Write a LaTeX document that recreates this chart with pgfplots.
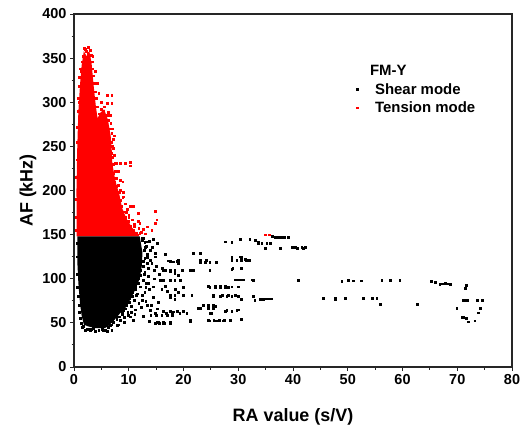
\documentclass[border=0pt]{standalone}
\usepackage{fontspec}
\setmainfont{Liberation Sans}
\usepackage{pgfplots}
\pgfplotsset{compat=1.18}
\begin{document}
\begin{tikzpicture}
\begin{axis}[
  scale only axis,
  width=438bp, height=353bp,
  xmin=0, xmax=80, ymin=0, ymax=400,
  xtick={0,10,...,80}, ytick={0,50,...,400},
  minor x tick num=1, minor y tick num=1,
  tick align=outside, tick pos=left,
  major tick length=4bp, minor tick length=2.5bp,
  axis line style={line width=1.1bp, black!85},
  every tick/.style={line width=1bp, black!85},
  /pgf/number format/assume math mode=true,
  ticklabel style={font=\bfseries\fontsize{14.5}{16}\selectfont},
  xlabel={RA value (s/V)}, ylabel={AF (kHz)},
  label style={font=\bfseries\fontsize{18}{20}\selectfont},
  xlabel style={at={(axis description cs:0.5,-0.14)}, anchor=center},
  ylabel style={at={(axis description cs:-0.105,0.5)}, anchor=center},
  legend style={draw=none, fill=none, at={(0.62,0.866)}, anchor=north west,
    font=\bfseries\fontsize{15}{18}\selectfont, row sep=2bp,
    /tikz/every odd column/.append style={column sep=15bp}},
  legend cell align=left,
]
\addlegendimage{empty legend}\addlegendentry{\hspace{-5bp}FM-Y}
\addlegendimage{only marks, mark=square*, mark size=0.8bp, black}\addlegendentry{Shear mode}
\addlegendimage{only marks, mark=square*, mark size=0.8bp, red}\addlegendentry{Tension mode}

% dense tension-mode core
\addplot[forget plot, fill=red, draw=none] coordinates {
 (0.5,148) (0.45,200) (0.6,250) (0.8,290) (1.1,320) (1.4,342) (1.8,358) (2.3,352) (2.8,358)
 (3.2,345) (3.6,318) (4.0,295) (4.3,282) (4.8,288) (5.5,292) (6.2,280) (6.7,262) (6.9,245)
 (7.0,230) (7.6,210) (8.3,195) (8.8,180) (9.6,168) (10.6,158) (11.6,150) (11.8,148)
};
% tension-mode scattered points
\addplot[forget plot, only marks, mark=square*, mark size=0.9bp, red] coordinates {
 (6.0,308) (6.9,308) (6.0,299) (6.9,299) (6.3,289) (6.6,285) (6.0,285) (6.6,242) (6.9,242)
 (7.5,231) (7.8,231) (8.4,231) (9.3,231) (10.2,232) (10.2,228) (8.4,212) (8.4,200) (9.0,198)
 (9.0,193) (8.4,189) (10.2,182) (10.8,182) (11.7,174) (11.7,165) (12.0,163) (14.8,177)
 (15.1,167) (14.8,163) (13.3,159) (14.2,155) (11.4,152) (12.0,152) (9.5,175) (8.0,190)
 (7.8,205) (7.2,220) (5.0,300) (4.5,310) (2.0,360) (2.6,362) (3.4,352) (1.3,335) (0.9,300)
 (7.0,270) (7.3,262) (5.5,295) (4.2,322) (3.9,335) (7.0,250) (7.4,240) (8.0,222) (8.9,210)
 (9.4,185) (10.0,170) (11.0,160) (12.6,156) (13.0,151) (34.9,150) (35.6,150)
 (11.5,150) (12.3,153) (10.9,155) (11.8,157) (10.3,160) (11.0,162) (9.9,165) (10.6,167)
 (9.4,170) (10.0,172) (9.2,176) (9.7,179) (8.6,182) (9.3,185) (8.2,188) (8.9,192) (7.9,195)
 (8.3,198) (7.6,202) (8.1,206) (7.3,210) (7.7,214) (7.0,218) (7.5,222) (6.8,226) (7.1,230)
 (6.6,234) (7.0,238) (6.5,245) (7.1,248) (6.9,255) (7.2,258) (6.9,265) (6.4,270) (6.7,276)
 (6.2,280) (5.8,285) (5.4,290) (4.9,292) (4.5,287) (4.3,295) (4.1,305) (3.9,312) (3.7,322)
 (3.5,330) (3.4,338) (3.3,346) (3.1,353) (2.9,359) (2.5,356) (2.2,358) (1.9,361) (1.6,352)
 (1.4,346) (1.2,338) (1.0,328) (0.9,318) (0.8,305) (0.7,290) (0.6,272) (0.5,255) (0.5,235)
 (0.4,215) (0.4,190) (0.4,170) (0.4,155)
};
% dense shear-mode core
\addplot[forget plot, fill=black, draw=none] coordinates {
 (0.6,148) (12.0,148) (12.5,130) (12.4,115) (12.0,100) (11.2,88) (10.4,78) (9.5,68) (8.3,60)
 (7.2,52) (6.2,46) (5.6,44) (4.0,44) (2.6,46) (1.8,48) (1.4,58) (1.1,72) (0.8,95) (0.6,120)
};
% shear-mode scattered points
\addplot[forget plot, only marks, mark=square*, mark size=0.9bp, black] coordinates {
 (2.0,42) (2.9,42) (5.4,42) (5.7,42) (6.0,41) (2.7,43) (1.5,45) (3.5,44)
 (12.6,146) (12.9,141) (13.2,137) (12.8,132) (13.4,128) (12.9,123) (13.3,118) (12.6,114)
 (12.9,108) (12.2,104) (12.6,99) (11.7,95) (12.1,91) (11.2,88) (11.6,83) (10.6,80) (11.0,76)
 (10.1,73) (10.4,69) (9.4,66) (9.8,62) (8.8,60) (8.3,57) (7.8,54) (7.2,51) (6.8,48) (6.2,45)
 (5.2,43) (4.5,42) (3.8,41) (3.2,43) (2.4,43) (1.7,46) (1.3,50) (1.2,55) (1.0,62) (0.9,70)
 (0.7,80) (0.6,90) (0.5,105) (0.5,125) (0.5,140) (13.8,143) (14.3,136) (13.9,121) (14.6,110)
 (13.6,103) (13.1,90) (12.5,81) (11.8,72) (11.2,65) (10.4,62) (9.2,56) (10.8,53)
 (11.7,140) (12.4,144) (13.0,136) (13.3,124) (14.2,118) (15.0,114) (13.9,132.6) (14.8,128.8)
 (17.2,120.5) (18.1,119.4) (19.1,118) (16.7,110) (17.5,108) (18.4,106) (19.0,104)
 (12.7,98.6) (13.6,94.8) (14.5,91) (15.7,98.6) (16.6,92) (11.4,81.6) (12.4,76) (13.3,70)
 (14.5,79.3) (15.4,73.6) (17.5,79) (18.4,77) (13.9,64.6) (14.8,60.8) (16.0,59) (16.9,60.8)
 (18.1,62.7) (15.4,51.3) (16.2,49.5) (17.5,49.5) (9.0,64.6) (9.9,59) (8.4,53.3) (7.9,47) (6.9,42)
 (12.5,146) (13.4,142) (14.4,145) (15.2,140)
 (12.0,128) (12.6,120) (12.2,110) (11.8,100) (11.2,92) (10.6,85) (10.1,78) (9.6,70) (8.8,62)
 (7.8,56) (7.0,52) (6.6,47) (12.8,105) (13.2,95) (13.8,88) (12.9,85) (14.6,100) (15.5,105)
 (16.1,112) (14.9,125) (13.5,112) (16.6,128) (13.1,75) (14.1,70) (15.2,66) (12.3,68) (11.1,60)
 (10.3,57) (9.2,51) (8.1,48) (12.6,58) (13.7,52) (16.0,88) (17.0,86) (18.5,88) (20.0,90) (19.0,85)
 (16.3,110) (17.5,110) (18.4,110) (19.7,110) (21.2,110) (21.8,110) (24.8,110)
 (17.5,120) (18.8,120) (19.0,121)
 (16.3,98.6) (17.5,98.6) (18.4,98) (19.4,98.6)
 (17.5,81) (18.4,81) (19.9,81) (21.5,81)
 (16.3,63.5) (17.5,63.5) (18.8,63) (19.9,63.5)
 (15.1,51) (16.3,51) (17.5,51)
 (14.0,59) (15.0,59) (17.0,59) (18.0,59)
 (14.8,50) (15.5,50) (16.5,50)
 (18.0,61) (19.3,61) (20.6,61) (21.2,53)
 (21.8,129) (23.0,129)
 (23.0,119) (24.0,119) (24.8,119) (26.0,119) (23.0,121) (24.2,121)
 (27.6,142) (28.8,141) (30.3,145) (32.1,144.7) (33.1,144) (33.7,141) (34.3,140)
 (28.8,124) (30.3,125) (28.8,121) (29.7,121) (30.6,121) (31.5,121) (32.1,121) (30.6,124) (31.2,122) (31.8,121)
 (29.0,112) (30.6,112) (28.8,111)
 (30.0,99) (30.9,99) (29.4,99) (30.3,99) (32.5,99) (32.7,98)
 (24.5,91.5) (25.8,91.5) (26.7,91.5) (27.6,91.5) (28.8,91) (30.0,91)
 (24.8,90) (25.8,90) (26.7,90) (27.6,90) (28.2,90)
 (25.4,80) (26.7,80) (27.9,80) (28.8,80) (30.0,80) (25.4,81.5) (27.0,81.5) (28.2,81.5) (29.4,81.5)
 (23.0,66.5) (24.5,66.5) (25.4,66.5) (27.9,64.6) (29.7,64.6) (22.7,67) (23.6,70) (24.5,70) (25.4,70)
 (25.8,69) (30.0,65)
 (24.8,61) (25.1,61) (27.6,63.5) (28.8,63.5)
 (24.5,53) (25.5,53) (26.5,53) (27.5,53) (28.5,53) (30.6,54) (24.8,52.5) (26.0,52.5) (27.3,52.5)
 (21.2,52)
 (36.2,148) (36.7,147) (37.3,147) (38.2,147) (39.1,147) (37.6,147) (38.5,147)
 (33.6,140.5) (34.3,140.5) (35.2,140.5) (35.8,140.5)
 (34.9,134.5) (37.6,135) (39.8,136) (40.4,136) (41.6,136) (42.2,136) (40.7,135) (41.9,135)
 (41.0,98)
 (32.7,80) (33.0,76) (34.0,76.7) (34.6,77) (35.5,77.5) (36.1,77.5) (34.9,77.5) (35.8,77.5)
 (45.5,78) (47.7,77) (30.6,77)
 (48.9,97.5) (50.1,98.6) (51.0,97.8) (52.5,97.8)
 (56.2,98) (57.7,98) (59.5,98)
 (65.3,97) (65.9,96.5) (66.8,94) (67.8,95) (68.7,94) (67.2,94.5) (68.2,94.5)
 (71.7,93) (71.4,89)
 (47.7,78) (49.5,78) (52.8,78) (54.4,78) (55.3,78) (55.9,71)
 (62.7,71)
 (71.1,76) (71.5,76) (71.9,76) (73.6,76) (74.5,76)
 (69.9,66.5) (74.2,66.5) (73.8,61.5)
 (71.1,56) (71.7,55) (72.0,51.3) (73.2,52.5) (70.8,56)
};
\end{axis}
\path ([shift={(-74bp,-61bp)}]current axis.south west) rectangle ([shift={(12bp,14bp)}]current axis.north east);
\end{tikzpicture}
\end{document}
